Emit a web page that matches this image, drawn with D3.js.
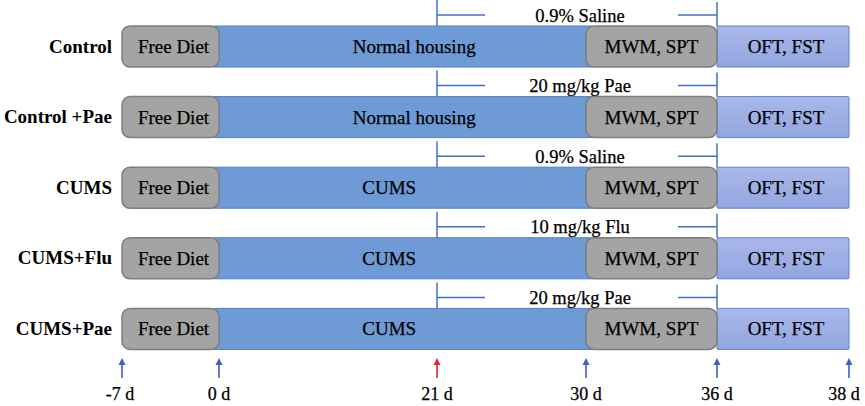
<!DOCTYPE html>
<html>
<head>
<meta charset="utf-8">
<script src="https://cdn.jsdelivr.net/npm/d3@7"></script>
<style>
  body { margin: 0; background: #fff; }
  text { font-family: "Liberation Serif", "Times New Roman", serif; }
</style>
</head>
<body>
<div id="chart"></div>
<script>
(function () {

  // Data
  const groups = ["Control", "Control +Pae", "CUMS", "CUMS+Flu", "CUMS+Pae"]
  const housing = ["Normal housing", "Normal housing", "CUMS", "CUMS", "CUMS"]
  const treatments = ["0.9% Saline", "20 mg/kg Pae", "0.9% Saline", "10 mg/kg Flu", "20 mg/kg Pae"]
  const phaseStarts = [-7, 0, 30, 36]
  const phaseEnds = [0, 30, 36, 38]
  const phaseKinds = ["gray", "blue", "gray", "light"]
  const treatStart = 21
  const treatEnd = 36
  const markDays = [-7, 0, 21, 30, 36, 38]
  const markLabels = ["-7 d", "0 d", "21 d", "30 d", "36 d", "38 d"]

  const width = 865
  const height = 406

  const svg = d3.select("#chart").append("svg")
      .attr("width", width)
      .attr("height", height)

  // Day scale is not linear in the figure, so piecewise
  const x = d3.scaleLinear()
    .domain(markDays)
    .range([122, 219, 437, 586, 717, 849])

  const y = d3.scaleBand()
    .domain(groups)
    .range([26, 349.4])
    .paddingInner(0.419)
    .paddingOuter(0)

  const fills = { gray: "#a4a4a4", blue: "#6e9bd5", light: "url(#lightGrad)" }
  const strokes = { gray: "#7d7d7d", blue: "#4f7fc4", light: "#5f80cf" }

  const defs = svg.append("defs")
  const grad = defs.append("linearGradient")
    .attr("id", "lightGrad").attr("x1", 0).attr("x2", 0).attr("y1", 0).attr("y2", 1)
  grad.append("stop").attr("offset", "0%").attr("stop-color", "#a9b8ea")
  grad.append("stop").attr("offset", "100%").attr("stop-color", "#93a6e0")

  const rowData = groups.map((g, i) => ({ group: g, housing: housing[i], treat: treatments[i] }))

  const rows = svg.selectAll("g.row")
    .data(rowData)
    .join("g")
    .attr("class", "row")
    .attr("transform", d => "translate(0," + y(d.group) + ")")

  const bh = y.bandwidth()

  // blue and light segments first, gray boxes on top
  const order = [1, 3, 0, 2]
  order.forEach(p => {
    const kind = phaseKinds[p]
    rows.append("rect")
      .attr("x", x(phaseStarts[p]) + (kind === "blue" ? -6 : 0))
      .attr("y", 0)
      .attr("width", x(phaseEnds[p]) - x(phaseStarts[p]) + (kind === "blue" ? 12 : 0))
      .attr("height", bh)
      .attr("rx", kind === "gray" ? 8 : 1)
      .attr("fill", fills[kind])
      .attr("stroke", strokes[kind])
      .attr("stroke-width", kind === "gray" ? 1.5 : 1)
  })

  // Segment text
  function segText(sel, fx, txt) {
    sel.append("text")
      .attr("x", fx)
      .attr("y", bh / 2 + 6.5)
      .attr("text-anchor", "middle")
      .attr("font-size", 19)
      .attr("fill", "#000")
      .attr("stroke", "#000")
      .attr("stroke-width", 0.25)
      .text(txt)
  }
  segText(rows, (x(-7) + x(0)) / 2 + 3, "Free Diet")
  segText(rows, d => d.housing === "CUMS" ? x(16.4) : x(18.8), d => d.housing)
  segText(rows, (x(30) + x(36)) / 2, "MWM, SPT")
  segText(rows, (x(36) + x(38)) / 2 + 3, "OFT, FST")

  // Group labels
  rows.append("text")
    .attr("x", x(-7) - 10)
    .attr("y", bh / 2 + 6)
    .attr("text-anchor", "end")
    .attr("font-size", 19)
    .attr("font-weight", "bold")
    .attr("fill", "#000")
    .text(d => d.group)

  // Treatment brackets
  const lineColor = "#3f6fc6"
  rows.append("line")
    .attr("x1", x(treatStart)).attr("x2", x(treatStart))
    .attr("y1", -26).attr("y2", 0)
    .attr("stroke", lineColor).attr("stroke-width", 1.5)
  rows.append("line")
    .attr("x1", x(treatStart)).attr("x2", x(treatStart) + 48)
    .attr("y1", -11).attr("y2", -11)
    .attr("stroke", lineColor).attr("stroke-width", 1.5)
  rows.append("line")
    .attr("x1", x(treatEnd) - 39).attr("x2", x(treatEnd))
    .attr("y1", -11).attr("y2", -11)
    .attr("stroke", lineColor).attr("stroke-width", 1.5)
  rows.append("line")
    .attr("x1", x(treatEnd)).attr("x2", x(treatEnd))
    .attr("y1", -24).attr("y2", 0)
    .attr("stroke", lineColor).attr("stroke-width", 1.5)
  rows.append("text")
    .attr("x", (x(treatStart) + x(treatEnd)) / 2 + 3)
    .attr("y", -4.5)
    .attr("text-anchor", "middle")
    .attr("font-size", 18.5)
    .attr("fill", "#000")
    .attr("stroke", "#000")
    .attr("stroke-width", 0.25)
    .text(d => d.treat)

  // Time arrows
  const arrowTop = 358
  const arrowBottom = 378
  const marks = svg.selectAll("g.mark")
    .data(markDays)
    .join("g")
    .attr("class", "mark")
    .attr("transform", d => "translate(" + x(d) + ",0)")

  const markColor = d => d === 21 ? "#e3242b" : "#3c62c8"

  marks.append("line")
    .attr("y1", arrowTop + 3).attr("y2", arrowBottom)
    .attr("stroke", markColor)
    .attr("stroke-width", 1.6)
  marks.append("path")
    .attr("d", "M0," + arrowTop + " L-3.5," + (arrowTop + 7) + " L3.5," + (arrowTop + 7) + " Z")
    .attr("fill", markColor)

  marks.append("text")
    .attr("x", (d, i) => i === 0 ? -2 : (i === markDays.length - 1 ? -5 : 0))
    .attr("y", 400)
    .attr("text-anchor", "middle")
    .attr("font-size", 18)
    .attr("fill", "#000")
    .attr("stroke", "#000")
    .attr("stroke-width", 0.25)
    .text((d, i) => markLabels[i])

})();
</script>
</body>
</html>
